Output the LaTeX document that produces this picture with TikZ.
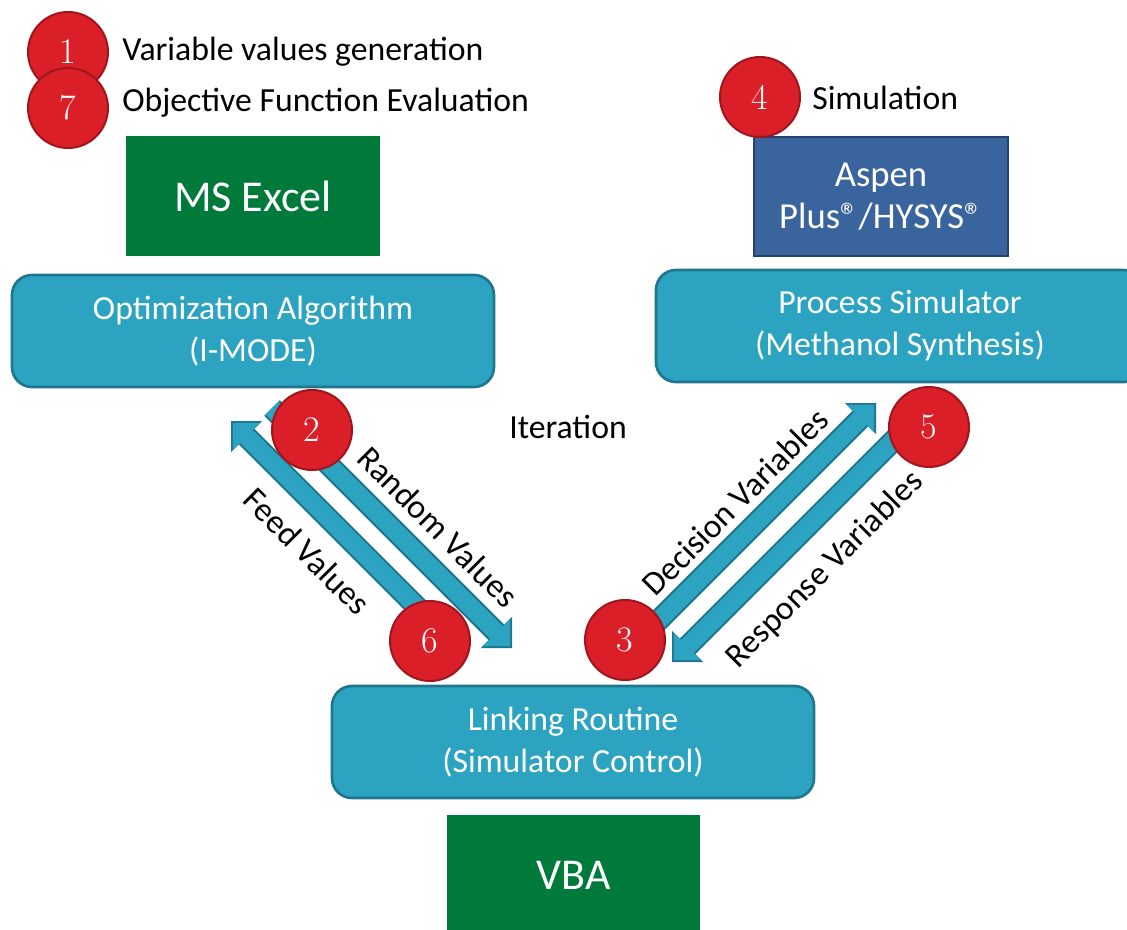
\documentclass[tikz,border=0pt]{standalone}
\usepackage{fontspec}
\newfontfamily\calfont{Carlito}
\usetikzlibrary{positioning, arrows.meta}
\usepackage{xcolor}
\definecolor{boxteal}{RGB}{44,163,192}
\definecolor{tealedge}{RGB}{30,118,143}
\definecolor{excelgreen}{RGB}{0,122,59}
\definecolor{aspenblue}{RGB}{58,100,158}
\definecolor{aspenedge}{RGB}{38,66,110}
\definecolor{stepred}{RGB}{218,31,40}
\definecolor{stepedge}{RGB}{160,22,28}

\begin{document}
\begin{tikzpicture}[x=0.75pt, y=-0.75pt,
    roundbox/.style={rectangle, rounded corners=15pt, fill=boxteal, draw=tealedge, line width=2pt, text=white, align=center, minimum width=361.5pt, minimum height=84pt, font=\calfont\fontsize{25.3}{31.5}\selectfont},
    toolbox/.style={rectangle, text=white, align=center, minimum width=190pt, minimum height=90pt, font=\calfont\fontsize{33}{40}\selectfont},
    stepnum/.style={circle, fill=stepred, draw=stepedge, line width=1.5pt, text=white, minimum size=60pt, inner sep=0pt, font=\fontsize{27}{30}\selectfont},
    note/.style={inner sep=0pt, font=\calfont\fontsize{25.3}{30}\selectfont},
    flow/.style={draw=boxteal, line width=13.5pt, shorten >=2pt, -{Triangle[length=14.5pt, width=29pt, line width=0pt]},
        preaction={draw=tealedge, line width=16.5pt, shorten >=0pt, -{Triangle[length=16.5pt, width=33pt, line width=0pt]}}}]
        \useasboundingbox (0,0) rectangle (1127,930);
        % tools
        \node[toolbox, fill=excelgreen] (excel) at (253,196) {MS Excel};
        \node[toolbox, fill=aspenblue, draw=aspenedge, line width=1.5pt, minimum height=89pt, font=\calfont\fontsize{27.5}{31}\selectfont] (aspen) at (881,196.5) {Aspen\\Plus®/HYSYS®};
        \node[toolbox, fill=excelgreen] (vba) at (573.5,875) {VBA};
        % blocks
        \node[roundbox] (optim) at (253,331) {Optimization Algorithm\\(I-MODE)};
        \node[roundbox, minimum width=366pt] (procsim) at (900,326) {Process Simulator\\(Methanol Synthesis)};
        \node[roundbox] (linking) at (573,742) {Linking Routine\\(Simulator Control)};
        % arrow ends
        \coordinate (rvTail) at (272,408);
        \coordinate (rvTip) at (512,648);
        \coordinate (fvTail) at (448,638);
        \coordinate (fvTip) at (231,421);
        \coordinate (dvTail) at (628,651);
        \coordinate (dvTip) at (876,403);
        \coordinate (rsTail) at (922,412);
        \coordinate (rsTip) at (672,662);
        \draw[flow] (rvTail) -- (rvTip);
        \draw[flow] (fvTail) -- (fvTip);
        \draw[flow] (dvTail) -- (dvTip);
        \draw[flow] (rsTail) -- (rsTip);
        \node[note, rotate=-45] (rvLabel) at (438,527) {Random Values};
        \node[note, rotate=-45] (fvLabel) at (307,551) {Feed Values};
        \node[note, rotate=45] (dvLabel) at (735,502) {Decision Variables};
        \node[note, rotate=45] (rsLabel) at (825,570) {Response Variables};
        \node[note] (iter) at (568,427) {Iteration};
        % steps
        \node[stepnum] (s1) at (68,52) {1};
        \node[stepnum] (s7) at (68,108) {7};
        \node[stepnum] (s4) at (760,97) {4};
        \node[stepnum] (s2) at (312,430) {2};
        \node[stepnum] (s6) at (430,641) {6};
        \node[stepnum] (s3) at (625,640) {3};
        \node[stepnum] (s5) at (929,427) {5};
        \node[note, anchor=west] (t1) at (122,52) {Variable values generation};
        \node[note, anchor=west] (t7) at (122,103) {Objective Function Evaluation};
        \node[note, anchor=west] (t4) at (812,98) {Simulation};
    \end{tikzpicture}
\end{document}
